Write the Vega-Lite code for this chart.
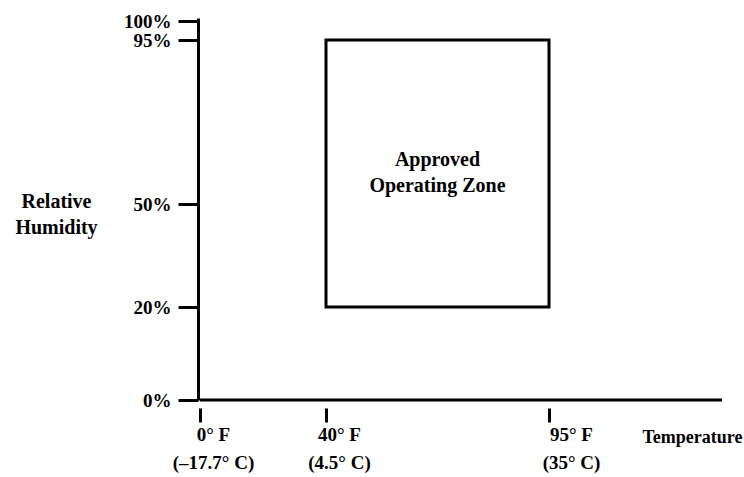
{
  "$schema": "https://vega.github.io/schema/vega-lite/v6.json",
  "width": 524,
  "height": 382,
  "autosize": {"type": "none"},
  "padding": {"left": 198, "top": 18, "right": 22, "bottom": 77},
  "background": "white",
  "config": {
    "view": {"stroke": null},
    "font": "Liberation Serif",
    "axis": {"grid": false, "labelFont": "Liberation Serif", "titleFont": "Liberation Serif", "labelColor": "black", "titleColor": "black", "tickColor": "black", "domainColor": "black"}
  },
  "layer": [
    {
      "data": {"values": [{"temp_lo": 40, "temp_hi": 95, "rh_lo": 20, "rh_hi": 95}]},
      "mark": {"type": "rect", "fill": null, "fillOpacity": 0, "stroke": "black", "strokeWidth": 3},
      "encoding": {
        "x": {
          "field": "temp_lo", "type": "quantitative",
          "scale": {"domain": [0, 40, 95, 165], "range": [2, 128, 351, 524], "nice": false, "zero": false},
          "axis": {
            "values": [0, 40, 95],
            "labelExpr": "datum.value == 0 ? ['0° F','(–17.7° C)'] : datum.value == 40 ? ['40° F','(4.5° C)'] : ['95° F','(35° C)']",
            "offset": 8, "domain": false, "tickSize": 14, "tickWidth": 3,
            "labelPadding": 3, "labelBaseline": "top", "labelLineHeight": 28,
            "labelFontSize": 19, "labelFontWeight": "bold", "labelFlush": false, "labelOverlap": false, "labelBound": false,
            "labelOffset": {"condition": {"test": "datum.value == 95", "value": 22}, "value": 13},
            "title": "Temperature", "titleX": 494, "titleY": 29, "titleAlign": "center", "titleBaseline": "middle",
            "titleFontSize": 18, "titleFontWeight": "bold"
          }
        },
        "x2": {"field": "temp_hi"},
        "y": {
          "field": "rh_lo", "type": "quantitative",
          "scale": {"domain": [0, 20, 50, 95, 100, 101], "range": [382, 289, 186, 22, 3, 0], "nice": false, "zero": false},
          "axis": {
            "values": [0, 20, 50, 95, 100],
            "labelExpr": "datum.value + '%'",
            "domainWidth": 3, "tickSize": 20, "tickWidth": 3, "labelPadding": 7,
            "labelFontSize": 19, "labelFontWeight": "bold", "labelFlush": false, "labelOverlap": false, "labelBound": false,
            "title": ["Relative", "Humidity"], "titleAngle": 0, "titleX": -142, "titleY": 183,
            "titleAlign": "center", "titleBaseline": "middle", "titleLineHeight": 26,
            "titleFontSize": 20, "titleFontWeight": "bold"
          }
        },
        "y2": {"field": "rh_hi"}
      }
    },
    {
      "data": {"values": [{"temp_lo": 0, "temp_hi": 165, "rh": 0}]},
      "mark": {"type": "rule", "stroke": "black", "strokeWidth": 3},
      "encoding": {
        "x": {"field": "temp_lo", "type": "quantitative"},
        "x2": {"field": "temp_hi"},
        "y": {"field": "rh", "type": "quantitative"}
      }
    },
    {
      "data": {"values": [{"temp": 67.5, "rh": 62, "label": "Approved\nOperating Zone"}]},
      "mark": {"type": "text", "font": "Liberation Serif", "fontSize": 20, "fontWeight": "bold", "lineBreak": "\n", "lineHeight": 26, "align": "center", "baseline": "middle", "color": "black"},
      "encoding": {
        "x": {"field": "temp", "type": "quantitative"},
        "y": {"field": "rh", "type": "quantitative"},
        "text": {"field": "label"}
      }
    }
  ]
}
